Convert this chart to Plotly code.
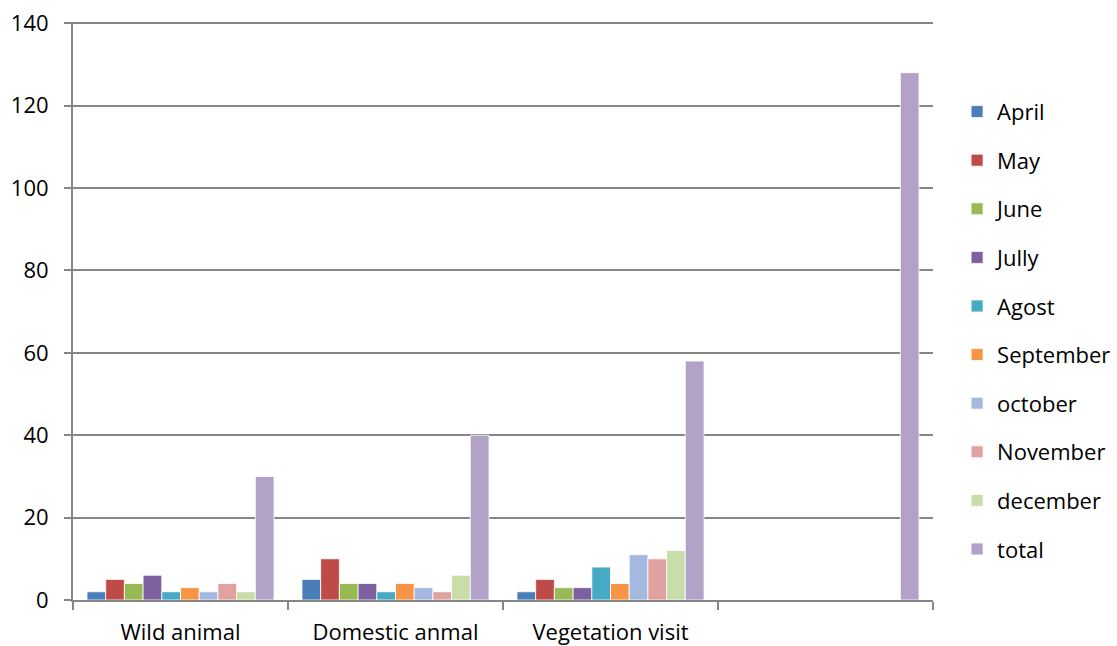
import plotly.graph_objects as go

categories = ["Wild animal", "Domestic anmal", "Vegetation visit", " "]

april = [2, 5, 2, None]
may = [5, 10, 5, None]
june = [4, 4, 3, None]
jully = [6, 4, 3, None]
agost = [2, 2, 8, None]
september = [3, 4, 4, None]
october = [2, 3, 11, None]
november = [4, 2, 10, None]
december = [2, 6, 12, None]
total = [30, 40, 58, 128]

series = [
    ("April", april, "#4a7ebb"),
    ("May", may, "#be4b48"),
    ("June", june, "#98b954"),
    ("Jully", jully, "#7d60a0"),
    ("Agost", agost, "#46aac5"),
    ("September", september, "#f69545"),
    ("october", october, "#a5b9e0"),
    ("November", november, "#e0a2a0"),
    ("december", december, "#c9dca9"),
    ("total", total, "#b2a2c7"),
]

fig = go.Figure()
for name, vals, color in series:
    fig.add_trace(go.Bar(
        name=name, x=categories, y=vals, legendgroup=name,
        marker=dict(color=color, line=dict(color="rgba(255,255,255,0.8)", width=1)),
    ))

font_family = "Open Sans, Liberation Sans, sans-serif"

fig.update_layout(
    width=1117, height=646,
    margin=dict(l=73, r=184, t=22, b=46, autoexpand=False),
    paper_bgcolor="white", plot_bgcolor="white",
    barmode="group", bargap=0.13, bargroupgap=0,
    font=dict(family=font_family, size=22, color="black"),
    showlegend=True,
    legend=dict(
        x=1.028, xanchor="left", y=0.881, yanchor="top",
        font=dict(size=22), itemwidth=30, tracegroupgap=17,
        bgcolor="rgba(0,0,0,0)",
    ),
    xaxis=dict(
        showline=True, linecolor="#868686", linewidth=2,
        ticks="outside", tickson="boundaries", ticklen=8, tickcolor="#868686",
        tickwidth=2, showgrid=False, tickfont=dict(size=22),
        ticklabelstandoff=12,
    ),
    yaxis=dict(
        range=[0, 140.3], tickvals=[0, 20, 40, 60, 80, 100, 120, 140],
        showline=True, linecolor="#868686", linewidth=2,
        ticks="outside", ticklen=7, tickcolor="#868686", tickwidth=2,
        showgrid=True, gridcolor="#868686", gridwidth=1.5,
        zeroline=False, tickfont=dict(size=22), ticklabelstandoff=11,
    ),
)

fig.write_html("out.html")
